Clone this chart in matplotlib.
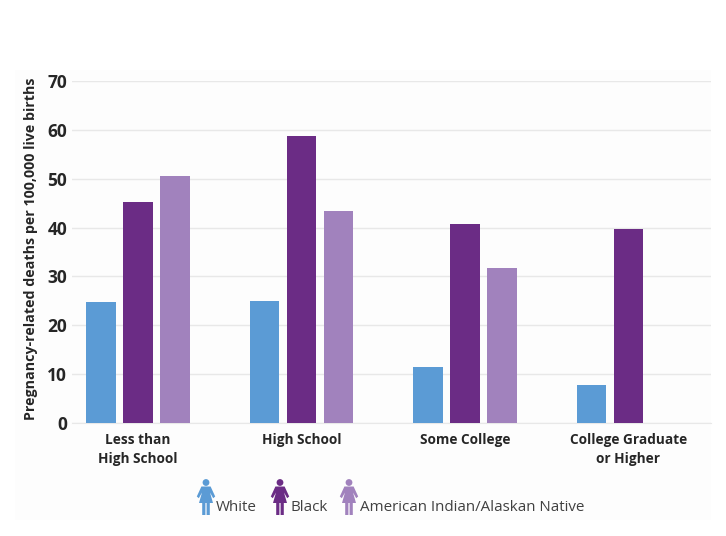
import numpy as np
import matplotlib
matplotlib.use("Agg")
import matplotlib.pyplot as plt
from matplotlib.patches import Circle, Polygon, Rectangle
from matplotlib.transforms import Affine2D

plt.rcParams['font.family'] = ['Open Sans', 'DejaVu Sans']

# Data -------------------------------------------------------------------------

categories = ["Less than\nHigh School", "High School", "Some College",
              "College Graduate\nor Higher"]
white = [24.8, 25.0, 11.5, 7.7]
black = [45.3, 58.7, 40.8, 39.8]
native = [50.5, 43.4, 31.8, np.nan]
y_ticks = [0, 10, 20, 30, 40, 50, 60, 70]

series_names = ["White", "Black", "American Indian/Alaskan Native"]
colors = ["#5b9bd5", "#6b2c85", "#a182bd"]

W, H = 726, 536

# Helpers ----------------------------------------------------------------------

def person(fig, cx, top, color):
    """little woman icon for the legend, drawn in pixels from the top left"""
    t = Affine2D().scale(1, -1).translate(cx, H - top) + Affine2D().scale(1 / W, 1 / H) + fig.transFigure
    parts = [
        Circle((0, 3.5), 3.4),
        Polygon([(-4.6, 7.5), (4.6, 7.5), (9.2, 17.5), (7.2, 19.2), (4.0, 13.5),
                 (7.0, 24), (-7.0, 24), (-4.0, 13.5), (-7.2, 19.2), (-9.2, 17.5)]),
        Rectangle((-3.8, 23), 3.2, 13),
        Rectangle((0.6, 23), 3.2, 13),
    ]
    for p in parts:
        p.set_facecolor(color)
        p.set_edgecolor("none")
        p.set_transform(t)
        p.set_snap(False)
        fig.add_artist(p)

# Plot -------------------------------------------------------------------------

fig = plt.figure(figsize=(W / 100, H / 100), dpi=100, facecolor="white")

# faint grey panel behind the whole chart
fig.add_artist(Rectangle((15 / W, 1 - 520 / H), 696 / W, 450 / H, transform=fig.transFigure,
                         facecolor="#fdfdfd", edgecolor="none", zorder=-5))

ax = fig.add_axes([72 / W, 1 - 423 / H, 639 / W, 342 / H])
ax.patch.set_alpha(0)

x = np.arange(len(categories))
width = 0.182
step = 0.226
for i, vals in enumerate([white, black, native]):
    ax.bar(x + (i - 1) * step, vals, width, color=colors[i], zorder=3)

ax.set_xlim(-0.404, 3.505)
ax.set_ylim(0, 70)
ax.set_yticks(y_ticks)
ax.set_xticks(x)
ax.set_xticklabels(categories, fontsize=9.8, fontweight="bold", color="#262626", linespacing=1.5)
ax.tick_params(axis="x", length=0, pad=7)
ax.tick_params(axis="y", length=0, pad=3.5, labelsize=12.5, labelcolor="#262626")
for lab in ax.get_yticklabels():
    lab.set_fontweight("bold")
ax.grid(axis="y", color="#e8e8e8", linewidth=1, zorder=0)
ax.set_axisbelow(True)
for side in ["top", "right", "left"]:
    ax.spines[side].set_visible(False)
ax.spines["bottom"].set_color("#e8e8e8")

fig.text(31 / W, 1 - 249 / H, "Pregnancy-related deaths per 100,000 live births", rotation=90,
         ha="center", va="center", fontsize=10.3, fontweight="bold", color="#262626")

# legend
for cx, tx, name, c in zip([206, 280, 349], [216, 290, 360], series_names, colors):
    person(fig, cx, 479, c)
    fig.text(tx / W, 1 - 511 / H, name, ha="left", va="baseline", fontsize=10.9, color="#404040")

fig.savefig("out.png", dpi=100, facecolor="white")
